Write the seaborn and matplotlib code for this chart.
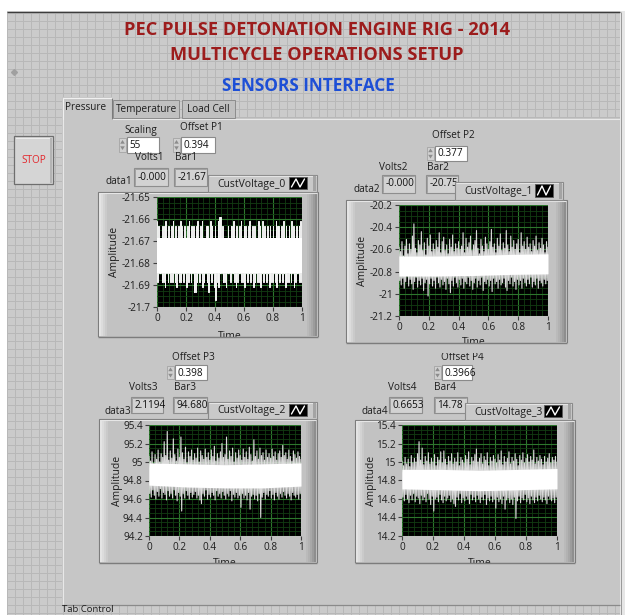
import numpy as np
import pandas as pd
import matplotlib
matplotlib.use("Agg")
import matplotlib.pyplot as plt
import seaborn as sns
from matplotlib.patches import Rectangle, Polygon
from matplotlib.ticker import FixedLocator, FixedFormatter, AutoMinorLocator

sns.set_style("ticks")
plt.rcParams["font.family"] = ["Open Sans", "DejaVu Sans"]
plt.rcParams["axes.unicode_minus"] = False

# ------------------------------------------------------------------ data
# LabVIEW waveform timing (peaks and troughs alternate, one sample every dt)
t0 = 0.0
dt = 0.005

# CustVoltage_0 (quantised pressure signal, Bar)
cv0_peaks = [-21.6611, -21.6633, -21.6686, -21.6686, -21.6633, -21.6633, -21.6611, -21.6686, -21.6633, -21.6686,
             -21.6633, -21.6611, -21.6686, -21.6633, -21.6686, -21.6633, -21.6611, -21.6633, -21.6686, -21.6633,
             -21.6686, -21.6633, -21.6611, -21.6686, -21.6633, -21.6633, -21.6686, -21.6633, -21.6611, -21.6686,
             -21.6633, -21.6611, -21.6686, -21.6686, -21.6633, -21.6633, -21.6686, -21.6611, -21.6633, -21.6686,
             -21.6633, -21.6686, -21.6611, -21.6589, -21.6589, -21.6633, -21.6686, -21.6686, -21.6686, -21.6633,
             -21.6686, -21.6633, -21.6633, -21.6611, -21.6686, -21.6633, -21.6686, -21.6633, -21.6611, -21.6686,
             -21.6633, -21.6633, -21.6686, -21.6633, -21.6611, -21.6686, -21.6633, -21.6633, -21.6686, -21.6686,
             -21.6611, -21.6633, -21.6686, -21.6611, -21.6633, -21.6686, -21.6633, -21.6686, -21.6633, -21.6686,
             -21.6633, -21.6686, -21.6611, -21.6633, -21.6633, -21.6686, -21.6633, -21.6611, -21.6686, -21.6633,
             -21.6686, -21.6633, -21.6686, -21.6611, -21.6633, -21.6686, -21.6633, -21.6686, -21.6633, -21.6611,
             -21.6633]
cv0_troughs = [-21.6888, -21.6845, -21.6845, -21.6888, -21.6888, -21.6910, -21.6845, -21.6888, -21.6845, -21.6888,
               -21.6888, -21.6845, -21.6888, -21.6910, -21.6845, -21.6888, -21.6888, -21.6845, -21.6888, -21.6845,
               -21.6910, -21.6888, -21.6845, -21.6888, -21.6845, -21.6932, -21.6932, -21.6888, -21.6845, -21.6888,
               -21.6845, -21.6910, -21.6888, -21.6845, -21.6888, -21.6932, -21.6845, -21.6888, -21.6845, -21.6910,
               -21.6966, -21.6888, -21.6910, -21.6845, -21.6845, -21.6888, -21.6888, -21.6910, -21.6845, -21.6845,
               -21.6888, -21.6845, -21.6845, -21.6888, -21.6910, -21.6888, -21.6845, -21.6845, -21.6888, -21.6888,
               -21.6910, -21.6845, -21.6888, -21.6845, -21.6888, -21.6845, -21.6910, -21.6888, -21.6845, -21.6888,
               -21.6888, -21.6910, -21.6845, -21.6888, -21.6845, -21.6888, -21.6845, -21.6910, -21.6888, -21.6888,
               -21.6845, -21.6888, -21.6910, -21.6845, -21.6888, -21.6845, -21.6888, -21.6845, -21.6910, -21.6888,
               -21.6888, -21.6845, -21.6888, -21.6845, -21.6910, -21.6888, -21.6845, -21.6845, -21.6888, -21.6888]

# CustVoltage_1
cv1_peaks = [-20.58, -20.62, -20.53, -20.66, -20.57, -20.51, -20.64, -20.55, -20.60, -20.48,
             -20.37, -20.59, -20.63, -20.52, -20.56, -20.44, -20.61, -20.54, -20.65, -20.50,
             -20.57, -20.47, -20.62, -20.55, -20.60, -20.52, -20.58, -20.45, -20.63, -20.53,
             -20.49, -20.61, -20.56, -20.64, -20.51, -20.58, -20.47, -20.62, -20.55, -20.59,
             -20.53, -20.60, -20.57, -20.45, -20.63, -20.50, -20.58, -20.54, -20.48, -20.61,
             -20.56, -20.52, -20.43, -20.59, -20.64, -20.51, -20.57, -20.62, -20.49, -20.55,
             -20.60, -20.53, -20.42, -20.58, -20.55, -20.63, -20.50, -20.57, -20.46, -20.61,
             -20.54, -20.59, -20.43, -20.56, -20.62, -20.48, -20.58, -20.52, -20.60, -20.55,
             -20.51, -20.63, -20.45, -20.57, -20.53, -20.60, -20.49, -20.58, -20.55, -20.62,
             -20.52, -20.57, -20.48, -20.61, -20.54, -20.59, -20.50, -20.56, -20.63, -20.53,
             -20.58]
cv1_troughs = [-20.88, -20.92, -20.86, -20.95, -20.89, -20.84, -20.93, -20.87, -20.91, -20.96,
               -20.89, -20.85, -20.94, -20.88, -20.92, -20.86, -20.97, -20.90, -20.87, -21.02,
               -20.91, -20.86, -20.93, -20.88, -20.95, -20.85, -20.90, -20.94, -20.87, -20.92,
               -20.89, -20.96, -20.86, -20.91, -20.99, -20.88, -20.93, -20.85, -20.90, -20.94,
               -20.87, -20.92, -20.86, -20.95, -20.89, -20.91, -20.85, -20.93, -20.88, -20.96,
               -20.90, -20.86, -20.94, -20.88, -20.92, -20.85, -20.97, -20.89, -20.91, -20.87,
               -20.93, -20.88, -20.98, -20.86, -20.91, -20.89, -20.95, -20.87, -20.92, -20.90,
               -20.86, -20.94, -20.97, -20.88, -20.91, -20.85, -20.93, -20.89, -20.96, -20.87,
               -20.92, -20.88, -20.95, -20.86, -20.90, -20.93, -20.87, -20.91, -20.85, -20.94,
               -20.89, -20.92, -20.86, -20.95, -20.88, -20.90, -20.93, -20.87, -20.91, -20.88]

# CustVoltage_2
cv2_peaks = [95.06, 95.01, 95.11, 94.98, 95.08, 95.03, 95.13, 95.00, 95.09, 95.05,
             95.22, 95.07, 95.33, 95.02, 95.12, 95.04, 95.25, 95.08, 95.01, 95.14,
             95.05, 95.27, 95.10, 95.03, 95.16, 94.99, 95.11, 95.06, 95.13, 95.02,
             95.09, 95.04, 95.15, 95.00, 95.12, 95.07, 95.03, 95.14, 95.05, 95.10,
             95.02, 95.13, 95.06, 95.17, 95.01, 95.09, 95.04, 95.11, 95.20, 95.05,
             95.08, 95.27, 95.03, 95.12, 95.06, 95.15, 95.00, 95.10, 95.04, 95.13,
             95.07, 95.02, 95.14, 95.05, 95.11, 95.03, 95.16, 95.08, 95.01, 95.24,
             95.06, 95.12, 95.03, 95.15, 95.07, 95.10, 95.02, 95.13, 95.05, 95.09,
             95.04, 95.14, 95.06, 95.11, 95.02, 95.09, 95.12, 95.05, 95.18, 95.07,
             95.10, 95.03, 95.13, 95.06, 95.01, 95.12, 95.08, 95.04, 95.11, 95.06,
             95.03]
cv2_troughs = [94.66, 94.62, 94.70, 94.64, 94.60, 94.68, 94.63, 94.71, 94.61, 94.67,
               94.65, 94.59, 94.69, 94.63, 94.66, 94.61, 94.70, 94.64, 94.58, 94.67,
               94.63, 94.47, 94.66, 94.61, 94.69, 94.64, 94.60, 94.67, 94.62, 94.65,
               94.68, 94.61, 94.64, 94.59, 94.55, 94.66, 94.63, 94.70, 94.60, 94.65,
               94.62, 94.67, 94.64, 94.59, 94.69, 94.63, 94.66, 94.61, 94.68, 94.64,
               94.60, 94.66, 94.63, 94.69, 94.58, 94.65, 94.62, 94.67, 94.61, 94.64,
               94.51, 94.66, 94.61, 94.64, 94.59, 94.67, 94.49, 94.63, 94.65, 94.60,
               94.64, 94.58, 94.66, 94.40, 94.62, 94.67, 94.60, 94.65, 94.63, 94.69,
               94.61, 94.65, 94.59, 94.67, 94.63, 94.60, 94.66, 94.62, 94.68, 94.64,
               94.61, 94.66, 94.63, 94.59, 94.67, 94.64, 94.62, 94.65, 94.60, 94.66]

# CustVoltage_3
cv3_peaks = [15.01, 14.96, 15.05, 14.98, 15.03, 14.95, 15.07, 14.99, 15.04, 15.00,
             15.09, 15.22, 15.02, 15.15, 14.97, 15.06, 15.01, 15.10, 14.98, 15.04,
             15.00, 15.08, 14.96, 15.05, 15.02, 15.11, 14.99, 15.12, 15.03, 14.97,
             15.06, 15.01, 15.09, 14.98, 15.04, 15.00, 15.10, 14.96, 15.05, 15.02,
             14.99, 15.07, 15.03, 15.11, 14.97, 15.05, 15.01, 15.08, 15.14, 15.00,
             15.04, 15.09, 14.98, 15.06, 15.02, 15.10, 14.96, 15.05, 15.01, 15.07,
             15.03, 14.99, 15.08, 15.02, 15.12, 14.97, 15.06, 15.00, 15.04, 15.11,
             14.98, 15.05, 15.01, 15.09, 15.03, 14.96, 15.07, 15.02, 15.10, 14.99,
             15.04, 15.08, 15.00, 15.06, 15.02, 15.13, 14.98, 15.05, 15.01, 15.07,
             15.03, 14.97, 15.06, 15.00, 15.04, 15.09, 14.99, 15.05, 15.02, 15.06,
             15.00]
cv3_troughs = [14.62, 14.58, 14.65, 14.60, 14.56, 14.64, 14.59, 14.66, 14.57, 14.63,
               14.61, 14.55, 14.64, 14.59, 14.62, 14.57, 14.66, 14.60, 14.54, 14.63,
               14.47, 14.60, 14.62, 14.57, 14.65, 14.59, 14.56, 14.63, 14.58, 14.61,
               14.64, 14.57, 14.60, 14.55, 14.52, 14.62, 14.59, 14.66, 14.56, 14.61,
               14.58, 14.63, 14.60, 14.55, 14.65, 14.59, 14.62, 14.57, 14.64, 14.60,
               14.56, 14.62, 14.59, 14.65, 14.54, 14.61, 14.58, 14.63, 14.57, 14.60,
               14.50, 14.62, 14.57, 14.60, 14.55, 14.63, 14.49, 14.59, 14.61, 14.56,
               14.60, 14.54, 14.62, 14.39, 14.58, 14.63, 14.56, 14.61, 14.59, 14.65,
               14.57, 14.61, 14.55, 14.63, 14.59, 14.56, 14.62, 14.58, 14.64, 14.60,
               14.57, 14.62, 14.59, 14.55, 14.63, 14.60, 14.58, 14.61, 14.56, 14.62]

# dense core of each trace (upper / lower envelope)
band_t = [0.0, 0.25, 0.5, 0.75, 1.0]
cv0_band_top = [-21.6686, -21.6686, -21.6686, -21.6686, -21.6686]
cv0_band_bot = [-21.6845, -21.6845, -21.6845, -21.6845, -21.6845]
cv1_band_top = [-20.660, -20.660, -20.655, -20.645, -20.640]
cv1_band_bot = [-20.840, -20.840, -20.835, -20.825, -20.820]
cv2_band_top = [94.99, 94.98, 94.97, 94.98, 94.99]
cv2_band_bot = [94.75, 94.73, 94.72, 94.72, 94.74]
cv3_band_top = [14.92, 14.92, 14.91, 14.92, 14.93]
cv3_band_bot = [14.71, 14.70, 14.69, 14.70, 14.71]

# axis ticks
x_ticks = [0, 0.2, 0.4, 0.6, 0.8, 1]
x_tick_labels = ["0", "0.2", "0.4", "0.6", "0.8", "1"]
cv0_yticks = [-21.7, -21.69, -21.68, -21.67, -21.66, -21.65]
cv0_ylabels = ["-21.7", "-21.69", "-21.68", "-21.67", "-21.66", "-21.65"]
cv1_yticks = [-21.2, -21.0, -20.8, -20.6, -20.4, -20.2]
cv1_ylabels = ["-21.2", "-21", "-20.8", "-20.6", "-20.4", "-20.2"]
cv2_yticks = [94.2, 94.4, 94.6, 94.8, 95.0, 95.2, 95.4]
cv2_ylabels = ["94.2", "94.4", "94.6", "94.8", "95", "95.2", "95.4"]
cv3_yticks = [14.2, 14.4, 14.6, 14.8, 15.0, 15.2, 15.4]
cv3_ylabels = ["14.2", "14.4", "14.6", "14.8", "15", "15.2", "15.4"]

# front-panel numeric values
scaling_value = "55"
offset_values = ["0.394", "0.377", "0.398", "0.3966"]
volts_values = ["-0.000", "-0.000", "2.1194", "0.6653"]
bar_values = ["-21.67", "-20.75", "94.680", "14.78"]
channel_names = ["CustVoltage_0", "CustVoltage_1", "CustVoltage_2", "CustVoltage_3"]

# ------------------------------------------------------------------ style / layout
W, H = 625, 615
GRIDBG = "#cbcbcb"
GRIDLN = "#b8b8b8"
PANEL = "#c6c6c6"
TXT = "#1e1e1e"
FS = 7.2

fig = plt.figure(figsize=(W / 100, H / 100), dpi=100)
fig.patch.set_facecolor(GRIDBG)

bg = fig.add_axes([0, 0, 1, 1], zorder=0)
bg.set_xlim(0, W)
bg.set_ylim(H, 0)
bg.axis("off")

ov = fig.add_axes([0, 0, 1, 1], zorder=5)
ov.set_xlim(0, W)
ov.set_ylim(H, 0)
ov.axis("off")


def rect(ax, x0, y0, x1, y1, fc, ec="none", lw=0.0, z=1):
    p = Rectangle((x0, y0), x1 - x0, y1 - y0, fc=fc, ec=ec, lw=lw, zorder=z)
    ax.add_patch(p)
    return p


# background grid
rect(bg, 0, 0, W, H, GRIDBG, z=0)
bg.vlines(np.arange(6.5, 620, 8), 12, H, color=GRIDLN, lw=0.72, zorder=0.5)
bg.hlines(np.arange(12.5, H, 8), 7, 620, color=GRIDLN, lw=0.72, zorder=0.5)
# window borders
rect(bg, 0, 0, W, 11, "white", z=1)
rect(bg, 0, 0, 7, H, "white", z=1)
rect(bg, 620, 11, W, H, "#e6e6e6", z=1)
bg.hlines(11.5, 7, 620, color="#3c3c3c", lw=0.9, zorder=2)
bg.vlines(620.5, 12, H, color="#9a9a9a", lw=0.72, zorder=2)
bg.plot([14], [72], marker="D", ms=3, color="#a0a0a0", zorder=2)

# tab control body
rect(bg, 62, 118, 620, 605, PANEL, z=1)
bg.hlines(118.5, 112, 620, color="#e8e8e8", lw=0.8, zorder=2)
bg.vlines(62.5, 118, 605, color="#e8e8e8", lw=0.8, zorder=2)
bg.hlines(604.5, 62, 620, color="#8a8a8a", lw=0.9, zorder=2)

# tabs
rect(bg, 113, 100, 179, 118, "#c0c0c0", ec="#8c8c8c", lw=0.7, z=2)
rect(bg, 182, 100, 235, 118, "#c0c0c0", ec="#8c8c8c", lw=0.7, z=2)
rect(bg, 62, 97, 112, 119, PANEL, z=3)
bg.plot([62.5, 62.5, 111.5, 111.5], [119, 97.5, 97.5, 119], color="#f0f0f0", lw=0.8, zorder=3)
bg.vlines(112, 98, 119, color="#7a7a7a", lw=0.8, zorder=3)
bg.text(86, 107.5, "Pressure", fontsize=FS, color=TXT, ha="center", va="center", zorder=4)
bg.text(146, 109.5, "Temperature", fontsize=FS, color=TXT, ha="center", va="center", zorder=4)
bg.text(208.5, 109.5, "Load Cell", fontsize=FS, color=TXT, ha="center", va="center", zorder=4)
bg.text(62, 605.5, "Tab Control", fontsize=6.8, color=TXT, ha="left", va="top", zorder=4)

# STOP button
rect(bg, 14, 136, 53, 184, "#d5d5d5", ec="#6e6e6e", lw=0.9, z=2)
rect(bg, 15.5, 137.5, 51.5, 139, "#ececec", z=3)
rect(bg, 49.5, 138, 51.8, 183, "#b4b4b4", z=3)
bg.text(33.5, 160.5, "STOP", fontsize=FS, color="#e3262b", ha="center", va="center", zorder=4)

# titles (font size fitted to the width of the original lettering)
renderer = fig.canvas.get_renderer()


def fitted(x, y, s, width, color):
    t = bg.text(x, y, s, fontsize=14, fontweight="bold", color=color, ha="center", va="center", zorder=4)
    w = t.get_window_extent(renderer).width
    t.set_fontsize(14 * width / w)
    return t


t1 = fitted(316.5, 30, "PEC PULSE DETONATION ENGINE RIG - 2014", 389, "#9c1c1c")
t2 = bg.text(317, 55, "MULTICYCLE OPERATIONS SETUP", fontsize=t1.get_fontsize(), fontweight="bold",
             color="#9c1c1c", ha="center", va="center", zorder=4)
fitted(308, 86, "SENSORS INTERFACE", 175, "#1d4fd6")


def label(x, y, s, ha="center"):
    bg.text(x, y, s, fontsize=FS, color=TXT, ha=ha, va="center", zorder=4)


def control(x0, y0, x1, y1, s):
    rect(bg, x0 - 8, y0 + 1, x0 - 1, y1 - 1, "#d0d0d0", ec="#a4a4a4", lw=0.6, z=3)
    ym = (y0 + y1) / 2
    bg.add_patch(Polygon([[x0 - 6.8, ym - 1.3], [x0 - 2.2, ym - 1.3], [x0 - 4.5, ym - 5]],
                         closed=True, fc="#8c8c8c", ec="none", zorder=4))
    bg.add_patch(Polygon([[x0 - 6.8, ym + 1.3], [x0 - 2.2, ym + 1.3], [x0 - 4.5, ym + 5]],
                         closed=True, fc="#8c8c8c", ec="none", zorder=4))
    box = rect(bg, x0, y0, x1, y1, "white", ec="#8a8a8a", lw=0.8, z=3)
    t = bg.text(x0 + 2.5, ym + 0.5, s, fontsize=FS, color="#101010", ha="left", va="center", zorder=4)
    t.set_clip_path(box)


def indicator(x0, y0, x1, y1, s):
    box = rect(bg, x0, y0, x1, y1, "#d2d2d2", ec="#8e8e8e", lw=0.8, z=3)
    bg.plot([x0 + 1, x0 + 1, x1 - 1], [y1 - 1, y0 + 1, y0 + 1], color="#a0a0a0", lw=0.7, zorder=3.5)
    t = bg.text(x0 + 3.5, (y0 + y1) / 2, s, fontsize=FS, color="#101010", ha="left", va="center", zorder=4)
    t.set_clip_path(box)


def frame(x0, y0, x1, y1):
    rect(bg, x0, y0, x1, y1, "#c2c2c2", ec="#7c7c7c", lw=0.8, z=2)
    for i, c in enumerate(["#e4e4e4", "#dcdcdc", "#d3d3d3", "#cacaca"]):
        rect(bg, x0 + 0.8 + i * 2, y0 + 0.8, x0 + 2.8 + i * 2, y1 - 0.8, c, z=2.2)
    for i, c in enumerate(["#8e8e8e", "#9c9c9c", "#a8a8a8", "#b2b2b2", "#bababa"]):
        rect(bg, x1 - 2.8 - i * 2, y0 + 0.8, x1 - 0.8 - i * 2, y1 - 0.8, c, z=2.2)
    bg.hlines(y0 + 1.2, x0 + 1, x1 - 1, color="#e6e6e6", lw=0.8, zorder=2.3)
    # bottom edge clips the "Time" caption
    rect(ov, x0 - 1, y1, x1 + 1, y1 + 10, PANEL, z=1)
    ov.hlines(y1, x0, x1, color="#7c7c7c", lw=1.0, zorder=2)


def legend_box(x0, y0, x1, y1, s):
    rect(bg, x0, y0, x1, y1, "#c9c9c9", ec="#8a8a8a", lw=0.8, z=5)
    bg.hlines(y0 + 1.2, x0 + 1, x1 - 1, color="#e4e4e4", lw=0.8, zorder=5.1)
    rect(bg, x1 - 4, y0 + 1, x1 - 1, y1 - 1, "#a4a4a4", z=5.1)
    bg.text(x0 + 9, (y0 + y1) / 2 + 0.5, s, fontsize=FS + 0.3, color=TXT, ha="left", va="center", zorder=5.2)
    ix0, ix1, iy0, iy1 = x1 - 28, x1 - 10, y0 + 2, y1 - 3
    rect(bg, ix0, iy0, ix1, iy1, "black", ec="#5a5a5a", lw=0.6, z=5.2)
    bg.plot([ix0 + 2.5, ix0 + 7, ix0 + 11, ix1 - 2.5], [iy1 - 2, iy0 + 2, iy1 - 2, iy0 + 2],
            color="white", lw=1.0, zorder=5.3)


# ---- front-panel controls
label(141, 131, "Scaling")
control(127, 137, 159, 153, scaling_value)
label(201, 127.5, "Offset P1")
control(181, 137, 215, 153, offset_values[0])
label(149, 158, "Volts1")
label(175, 158, "Bar1", ha="left")
label(132, 181, "data1", ha="right")
indicator(134, 168, 168, 186, volts_values[0])
indicator(174, 168, 207, 186, bar_values[0])

label(453, 136, "Offset P2")
control(435, 146, 467, 161, offset_values[1])
label(393, 168, "Volts2")
label(427, 167, "Bar2", ha="left")
label(380, 189, "data2", ha="right")
indicator(382, 175, 415, 193, volts_values[1])
indicator(426, 175, 458, 193, bar_values[1])

label(193, 357, "Offset P3")
control(175, 365, 207, 380, offset_values[2])
label(143, 388, "Volts3")
label(174, 388, "Bar3", ha="left")
label(131, 411, "data3", ha="right")
indicator(131, 397, 163, 413, volts_values[2])
indicator(173, 397, 207, 413, bar_values[2])

label(462, 357, "Offset P4")
control(442, 365, 472, 380, offset_values[3])
label(402, 388, "Volts4")
label(434, 388, "Bar4", ha="left")
label(388, 411, "data4", ha="right")
indicator(389, 397, 422, 413, volts_values[3])
indicator(434, 397, 467, 413, bar_values[3])

# ---- graphs
graphs = [
    dict(peaks=cv0_peaks, troughs=cv0_troughs, top=cv0_band_top, bot=cv0_band_bot,
         ylim=(-21.7, -21.65), yt=cv0_yticks, yl=cv0_ylabels,
         ax=(157, 197, 302, 307), frame=(98, 192, 318, 337), leg=(208, 175, 317, 192),
         ylab=37, xlab=24, color="#f4f4f4", lw=0.7, ds="steps-mid"),
    dict(peaks=cv1_peaks, troughs=cv1_troughs, top=cv1_band_top, bot=cv1_band_bot,
         ylim=(-21.2, -20.2), yt=cv1_yticks, yl=cv1_ylabels,
         ax=(399, 205, 548, 316), frame=(346, 200, 567, 343), leg=(455, 182, 563, 200),
         ylab=31, xlab=21, color="#dadada", lw=0.8, ds="default"),
    dict(peaks=cv2_peaks, troughs=cv2_troughs, top=cv2_band_top, bot=cv2_band_bot,
         ylim=(94.2, 95.4), yt=cv2_yticks, yl=cv2_ylabels,
         ax=(149, 425, 301, 536), frame=(99, 419, 317, 563), leg=(208, 402, 317, 419),
         ylab=26, xlab=22, color="#dadada", lw=0.8, ds="default"),
    dict(peaks=cv3_peaks, troughs=cv3_troughs, top=cv3_band_top, bot=cv3_band_bot,
         ylim=(14.2, 15.4), yt=cv3_yticks, yl=cv3_ylabels,
         ax=(402, 425, 557, 536), frame=(355, 420, 575, 563), leg=(465, 403, 572, 420),
         ylab=25, xlab=22, color="#dadada", lw=0.8, ds="default"),
]


def waveform(peaks, troughs):
    y = np.empty(len(peaks) + len(troughs))
    y[0::2] = peaks
    y[1::2] = troughs
    t = t0 + dt * np.arange(len(y))
    return pd.DataFrame({"Time": t, "Amplitude": y})


for g, name in zip(graphs, channel_names):
    frame(*g["frame"])
    legend_box(*g["leg"], name)
    x0, y0, x1, y1 = g["ax"]
    ax = fig.add_axes([x0 / W, 1 - y1 / H, (x1 - x0) / W, (y1 - y0) / H], zorder=2)
    ax.set_facecolor("black")
    df = waveform(g["peaks"], g["troughs"])
    sns.lineplot(data=df, x="Time", y="Amplitude", ax=ax, color=g["color"], linewidth=g["lw"],
                 estimator=None, sort=False, drawstyle=g["ds"], zorder=3)
    ax.fill_between(band_t, g["bot"], g["top"], color="white", lw=0, zorder=4)
    ax.set_xlim(0, 1)
    ax.set_ylim(*g["ylim"])
    ax.xaxis.set_major_locator(FixedLocator(x_ticks))
    ax.xaxis.set_major_formatter(FixedFormatter(x_tick_labels))
    ax.yaxis.set_major_locator(FixedLocator(g["yt"]))
    ax.yaxis.set_major_formatter(FixedFormatter(g["yl"]))
    ax.xaxis.set_minor_locator(AutoMinorLocator(5))
    ax.yaxis.set_minor_locator(AutoMinorLocator(4))
    ax.set_axisbelow(True)
    ax.grid(which="minor", color="#123c12", lw=0.6)
    ax.grid(which="major", color="#2d762d", lw=0.8)
    ax.tick_params(which="major", direction="out", length=3, width=0.8, color="#404040",
                   labelsize=7.2, labelcolor=TXT, pad=1.5, left=True, bottom=True)
    ax.tick_params(which="minor", length=0)
    for s in ax.spines.values():
        s.set_visible(False)
    ax.set_xlabel("Time", fontsize=7.5, color=TXT)
    ax.set_ylabel("Amplitude", fontsize=7.5, color=TXT)
    w = x1 - x0
    h = y1 - y0
    ax.yaxis.set_label_coords(-g["ylab"] / w, 0.5)
    ax.xaxis.set_label_coords(0.5, -g["xlab"] / h)

fig.savefig("out.png", dpi=100, facecolor=fig.get_facecolor())
